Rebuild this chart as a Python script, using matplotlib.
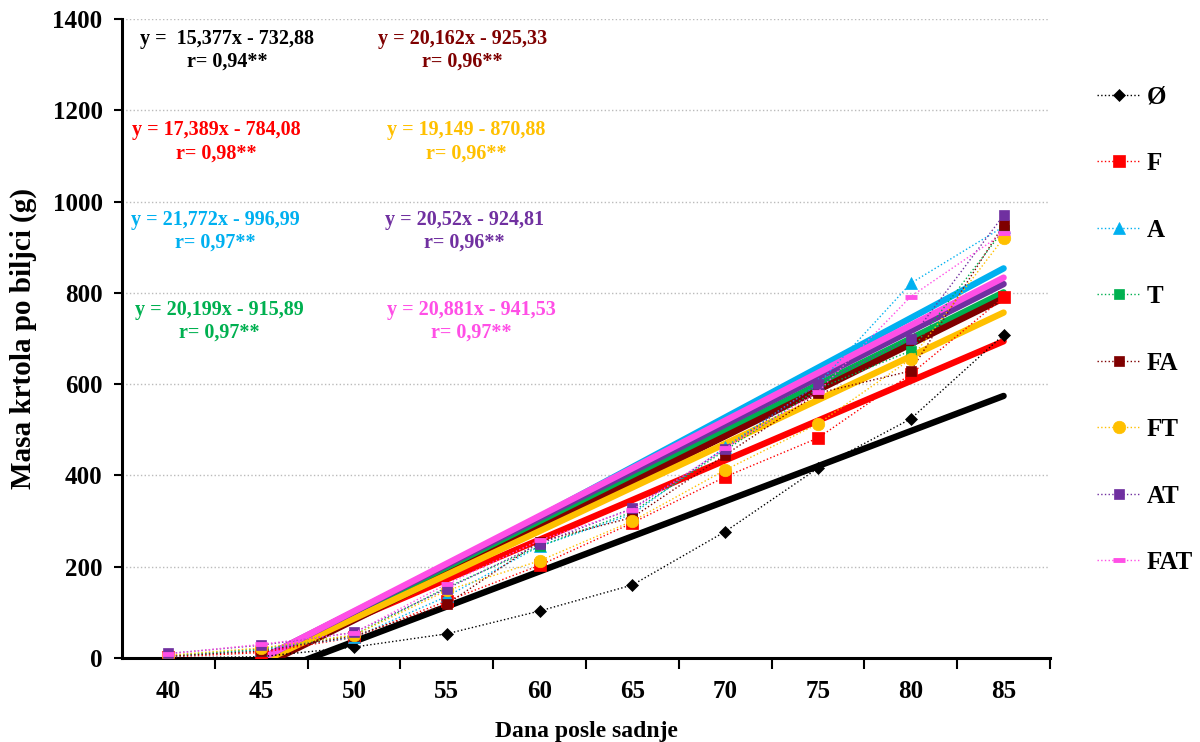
import numpy as np
import matplotlib.pyplot as plt
import matplotlib as mpl
mpl.rcParams.update({'font.family': 'Liberation Serif', 'font.weight': 'bold',
                     'axes.labelweight': 'bold'})

days = [40, 45, 50, 55, 60, 65, 70, 75, 80, 85]
labels = ['Ø', 'F', 'A', 'T', 'FA', 'FT', 'AT', 'FAT']
mass = {
    'Ø':   [0, 3, 24, 53, 103, 160, 277, 416, 524, 708],
    'F':   [2, 12, 45, 125, 203, 296, 397, 482, 622, 790],
    'A':   [3, 18, 45, 135, 245, 315, 462, 600, 821, 945],
    'T':   [5, 20, 50, 155, 245, 320, 455, 590, 673, 938],
    'FA':  [4, 15, 48, 118, 255, 308, 445, 580, 629, 949],
    'FT':  [6, 22, 50, 148, 213, 300, 412, 513, 655, 920],
    'AT':  [10, 28, 56, 152, 250, 328, 458, 600, 700, 970],
    'FAT': [9, 30, 55, 162, 258, 325, 460, 583, 792, 931],
}
# linear fits y = k*x + n and correlation coefficients
slope = [15.377, 17.389, 21.772, 20.199, 20.162, 19.149, 20.52, 20.881]
icept = [-732.88, -784.08, -996.99, -915.89, -925.33, -870.88, -924.81, -941.53]
r_val = ['0,94', '0,98', '0,97', '0,97', '0,96', '0,96', '0,96', '0,97']
eq_txt = ['y =  15,377x - 732,88', 'y = 17,389x - 784,08', 'y = 21,772x - 996,99',
          'y = 20,199x - 915,89', 'y = 20,162x - 925,33', 'y = 19,149 - 870,88',
          'y = 20,52x - 924,81', 'y = 20,881x - 941,53']

colors = ['black', '#FF0000', '#00B0F0', '#00B050', '#7F0000', '#FFC000', '#7030A0', '#FF4FE6']
markers = ['D', 's', '^', 's', 's', 'o', 's', '_']
msize = [6, 8, 8, 7, 7, 9, 7, 8]
# centre of each equation block (axes fraction)
eq_pos = [(0.113, 0.969), (0.102, 0.826), (0.101, 0.686), (0.105, 0.545),
          (0.367, 0.969), (0.371, 0.826), (0.369, 0.686), (0.376, 0.545)]

fig = plt.figure(figsize=(12, 7.42), dpi=100)
ax = fig.add_axes([0.1017, 0.1132, 0.7733, 0.8612])

x = np.array(days)
xfit = np.array([40, 85])
for i, lab in enumerate(labels):
    ax.plot(xfit, slope[i]*xfit + icept[i], color=colors[i], lw=4.6,
            solid_capstyle='round', zorder=3)
for i, lab in enumerate(labels):
    mew = 3.5 if markers[i] == '_' else 0.5
    ax.plot(x, mass[lab], color=colors[i], ls=':', lw=1.0, marker=markers[i],
            ms=msize[i], mfc=colors[i], mec=colors[i], mew=mew, label=lab, zorder=4)

for i in range(8):
    px, py = eq_pos[i]
    ax.text(px, py, eq_txt[i], color=colors[i], fontsize=14.5, ha='center',
            va='center', transform=ax.transAxes)
    ax.text(px, py - 0.036, 'r= ' + r_val[i] + '**', color=colors[i],
            fontsize=14.5, ha='center', va='center', transform=ax.transAxes)

ax.set_xlim(37.5, 87.5)
ax.set_ylim(0, 1400)
ax.set_yticks(np.arange(0, 1401, 200))
ax.set_xticks(np.arange(42.5, 88, 5))
ax.set_xticklabels([])
ax.set_xticks(days, minor=True)
ax.set_xticklabels([str(d) for d in days], minor=True)
ax.tick_params(axis='x', which='major', length=8, width=1.5, direction='out')
ax.tick_params(axis='x', which='minor', length=0, pad=16, labelsize=18)
ax.tick_params(axis='y', length=6, width=1.5, direction='out', labelsize=18, pad=8)
ax.yaxis.grid(True, ls=':', color='#BBBBBB', lw=1.0)
ax.set_axisbelow(True)
for s in ['top', 'right']:
    ax.spines[s].set_visible(False)
for s in ['left', 'bottom']:
    ax.spines[s].set_linewidth(2.2)

ax.set_xlabel('Dana posle sadnje', fontsize=17, labelpad=13)
ax.set_ylabel('Masa krtola po biljci (g)', fontsize=21, labelpad=11)

fig.legend(loc='upper left', bbox_to_anchor=(0.895, 0.915), frameon=False, fontsize=18,
           handlelength=1.76, labelspacing=1.74, handletextpad=0.25)

fig.savefig('out.png', dpi=100)
